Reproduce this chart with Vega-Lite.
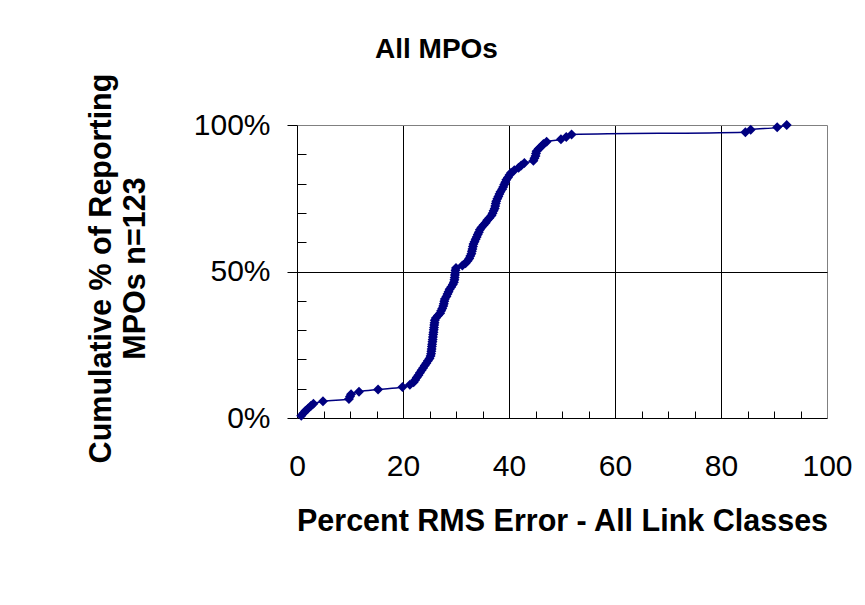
{
  "$schema": "https://vega.github.io/schema/vega-lite/v6.json",
  "autosize": "none",
  "width": 530,
  "height": 293,
  "padding": {"left": 297, "top": 125, "right": 38, "bottom": 187},
  "background": "white",
  "config": {"font": "Liberation Sans", "view": {"stroke": null}},
  "title": {"text": "All MPOs", "anchor": "start", "frame": "group", "dx": 78, "offset": -13, "baseline": "alphabetic", "fontSize": 28, "fontWeight": "bold", "color": "black", "font": "Liberation Sans"},
  "data": {"values": [
    {"rmsError": 0.8, "cumPct": 0.81}, {"rmsError": 1.2, "cumPct": 1.63}, {"rmsError": 1.6, "cumPct": 2.44}, {"rmsError": 2.1, "cumPct": 3.25},
    {"rmsError": 2.6, "cumPct": 4.07}, {"rmsError": 3.1, "cumPct": 4.88}, {"rmsError": 4.9, "cumPct": 5.69}, {"rmsError": 9.8, "cumPct": 6.50},
    {"rmsError": 10.0, "cumPct": 7.32}, {"rmsError": 10.2, "cumPct": 8.13}, {"rmsError": 11.7, "cumPct": 8.94}, {"rmsError": 15.3, "cumPct": 9.76},
    {"rmsError": 19.9, "cumPct": 10.57}, {"rmsError": 21.3, "cumPct": 11.38}, {"rmsError": 22.0, "cumPct": 12.20}, {"rmsError": 22.3, "cumPct": 13.01},
    {"rmsError": 22.6, "cumPct": 13.82}, {"rmsError": 22.9, "cumPct": 14.63}, {"rmsError": 23.2, "cumPct": 15.45}, {"rmsError": 23.5, "cumPct": 16.26},
    {"rmsError": 23.8, "cumPct": 17.07}, {"rmsError": 24.1, "cumPct": 17.89}, {"rmsError": 24.4, "cumPct": 18.70}, {"rmsError": 24.7, "cumPct": 19.51},
    {"rmsError": 25.0, "cumPct": 20.33}, {"rmsError": 25.2, "cumPct": 21.14}, {"rmsError": 25.3, "cumPct": 21.95}, {"rmsError": 25.35, "cumPct": 22.76},
    {"rmsError": 25.4, "cumPct": 23.58}, {"rmsError": 25.45, "cumPct": 24.39}, {"rmsError": 25.5, "cumPct": 25.20}, {"rmsError": 25.55, "cumPct": 26.02},
    {"rmsError": 25.6, "cumPct": 26.83}, {"rmsError": 25.65, "cumPct": 27.64}, {"rmsError": 25.7, "cumPct": 28.46}, {"rmsError": 25.75, "cumPct": 29.27},
    {"rmsError": 25.8, "cumPct": 30.08}, {"rmsError": 25.85, "cumPct": 30.89}, {"rmsError": 25.9, "cumPct": 31.71}, {"rmsError": 25.95, "cumPct": 32.52},
    {"rmsError": 26.0, "cumPct": 33.33}, {"rmsError": 26.2, "cumPct": 34.15}, {"rmsError": 26.6, "cumPct": 34.96}, {"rmsError": 27.0, "cumPct": 35.77},
    {"rmsError": 27.2, "cumPct": 36.59}, {"rmsError": 27.4, "cumPct": 37.40}, {"rmsError": 27.6, "cumPct": 38.21}, {"rmsError": 27.7, "cumPct": 39.02},
    {"rmsError": 27.8, "cumPct": 39.84}, {"rmsError": 27.9, "cumPct": 40.65}, {"rmsError": 28.2, "cumPct": 41.46}, {"rmsError": 28.4, "cumPct": 42.28},
    {"rmsError": 28.6, "cumPct": 43.09}, {"rmsError": 28.8, "cumPct": 43.90}, {"rmsError": 29.1, "cumPct": 44.72}, {"rmsError": 29.4, "cumPct": 45.53},
    {"rmsError": 29.6, "cumPct": 46.34}, {"rmsError": 29.7, "cumPct": 47.15}, {"rmsError": 29.75, "cumPct": 47.97}, {"rmsError": 29.8, "cumPct": 48.78},
    {"rmsError": 29.85, "cumPct": 49.59}, {"rmsError": 29.9, "cumPct": 50.41}, {"rmsError": 30.0, "cumPct": 51.22}, {"rmsError": 31.2, "cumPct": 52.03},
    {"rmsError": 31.8, "cumPct": 52.85}, {"rmsError": 32.2, "cumPct": 53.66}, {"rmsError": 32.5, "cumPct": 54.47}, {"rmsError": 32.7, "cumPct": 55.28},
    {"rmsError": 32.9, "cumPct": 56.10}, {"rmsError": 33.0, "cumPct": 56.91}, {"rmsError": 33.1, "cumPct": 57.72}, {"rmsError": 33.2, "cumPct": 58.54},
    {"rmsError": 33.3, "cumPct": 59.35}, {"rmsError": 33.5, "cumPct": 60.16}, {"rmsError": 33.7, "cumPct": 60.98}, {"rmsError": 33.9, "cumPct": 61.79},
    {"rmsError": 34.1, "cumPct": 62.60}, {"rmsError": 34.3, "cumPct": 63.41}, {"rmsError": 34.5, "cumPct": 64.23}, {"rmsError": 34.8, "cumPct": 65.04},
    {"rmsError": 35.2, "cumPct": 65.85}, {"rmsError": 35.6, "cumPct": 66.67}, {"rmsError": 35.9, "cumPct": 67.48}, {"rmsError": 36.3, "cumPct": 68.29},
    {"rmsError": 36.7, "cumPct": 69.11}, {"rmsError": 36.9, "cumPct": 69.92}, {"rmsError": 37.1, "cumPct": 70.73}, {"rmsError": 37.3, "cumPct": 71.54},
    {"rmsError": 37.4, "cumPct": 72.36}, {"rmsError": 37.5, "cumPct": 73.17}, {"rmsError": 37.6, "cumPct": 73.98}, {"rmsError": 37.8, "cumPct": 74.80},
    {"rmsError": 38.0, "cumPct": 75.61}, {"rmsError": 38.2, "cumPct": 76.42}, {"rmsError": 38.4, "cumPct": 77.24}, {"rmsError": 38.7, "cumPct": 78.05},
    {"rmsError": 38.9, "cumPct": 78.86}, {"rmsError": 39.1, "cumPct": 79.67}, {"rmsError": 39.3, "cumPct": 80.49}, {"rmsError": 39.5, "cumPct": 81.30},
    {"rmsError": 39.8, "cumPct": 82.11}, {"rmsError": 40.1, "cumPct": 82.93}, {"rmsError": 40.4, "cumPct": 83.74}, {"rmsError": 41.0, "cumPct": 84.55},
    {"rmsError": 41.8, "cumPct": 85.37}, {"rmsError": 42.3, "cumPct": 86.18}, {"rmsError": 42.9, "cumPct": 86.99}, {"rmsError": 44.6, "cumPct": 87.80},
    {"rmsError": 44.8, "cumPct": 88.62}, {"rmsError": 45.0, "cumPct": 89.43}, {"rmsError": 45.1, "cumPct": 90.24}, {"rmsError": 45.2, "cumPct": 91.06},
    {"rmsError": 45.6, "cumPct": 91.87}, {"rmsError": 46.1, "cumPct": 92.68}, {"rmsError": 46.5, "cumPct": 93.50}, {"rmsError": 47.1, "cumPct": 94.31},
    {"rmsError": 49.8, "cumPct": 95.12}, {"rmsError": 50.8, "cumPct": 95.93}, {"rmsError": 51.8, "cumPct": 96.75}, {"rmsError": 84.6, "cumPct": 97.56},
    {"rmsError": 85.6, "cumPct": 98.37}, {"rmsError": 90.6, "cumPct": 99.19}, {"rmsError": 92.4, "cumPct": 100}
  ]},
  "mark": {"type": "line", "interpolate": "monotone", "color": "#000080", "strokeWidth": 1.5,
    "point": {"shape": "diamond", "size": 100, "filled": true, "color": "#000080", "opacity": 1}},
  "encoding": {
    "x": {
      "field": "rmsError", "type": "quantitative",
      "scale": {"domain": [0, 100], "nice": false},
      "axis": {
        "title": "Percent RMS Error - All Link Classes",
        "values": [0, 5, 10, 15, 20, 25, 30, 35, 40, 45, 50, 55, 60, 65, 70, 75, 80, 85, 90, 95, 100],
        "labelExpr": "datum.value % 20 === 0 ? datum.label : ''",
        "labelFlush": false, "labelOverlap": false,
        "labelFontSize": 30, "labelColor": "black", "labelBaseline": "alphabetic", "labelPadding": 57,
        "domainColor": "black", "domainWidth": 1,
        "tickColor": "black", "tickWidth": 1,
        "tickSize": {"condition": {"test": "datum.value % 20 === 0", "value": 0}, "value": -7},
        "grid": true,
        "gridColor": {"condition": {"test": "datum.value === 100", "value": "#808080"}, "value": "black"},
        "gridOpacity": {"condition": {"test": "datum.value % 20 === 0 && datum.value > 0", "value": 1}, "value": 0},
        "gridWidth": 1,
        "titleFontSize": 30.5, "titleFontWeight": "bold", "titleColor": "black",
        "titleX": 265, "titleY": 112, "titleBaseline": "alphabetic", "titleAlign": "center"
      }
    },
    "y": {
      "field": "cumPct", "type": "quantitative",
      "scale": {"domain": [0, 100], "nice": false},
      "axis": {
        "title": ["Cumulative % of Reporting", "MPOs n=123"],
        "values": [0, 10, 20, 30, 40, 50, 60, 70, 80, 90, 100],
        "labelExpr": "datum.value % 50 === 0 ? datum.value + '%' : ''",
        "labelFontSize": 30, "labelColor": "black", "labelPadding": 17,
        "domainColor": "black", "domainWidth": 1,
        "tickColor": "black", "tickWidth": 1,
        "tickSize": {"condition": {"test": "datum.value % 50 === 0", "value": 10}, "value": -9},
        "grid": true,
        "gridColor": {"condition": {"test": "datum.value === 100", "value": "#808080"}, "value": "black"},
        "gridOpacity": {"condition": {"test": "datum.value === 50 || datum.value === 100", "value": 1}, "value": 0},
        "gridWidth": 1,
        "titleFontSize": 30.5, "titleFontWeight": "bold", "titleColor": "black",
        "titleX": -187, "titleY": 143, "titleBaseline": "alphabetic", "titleAlign": "center",
        "titleAngle": 270, "titleLineHeight": 34
      }
    }
  }
}
